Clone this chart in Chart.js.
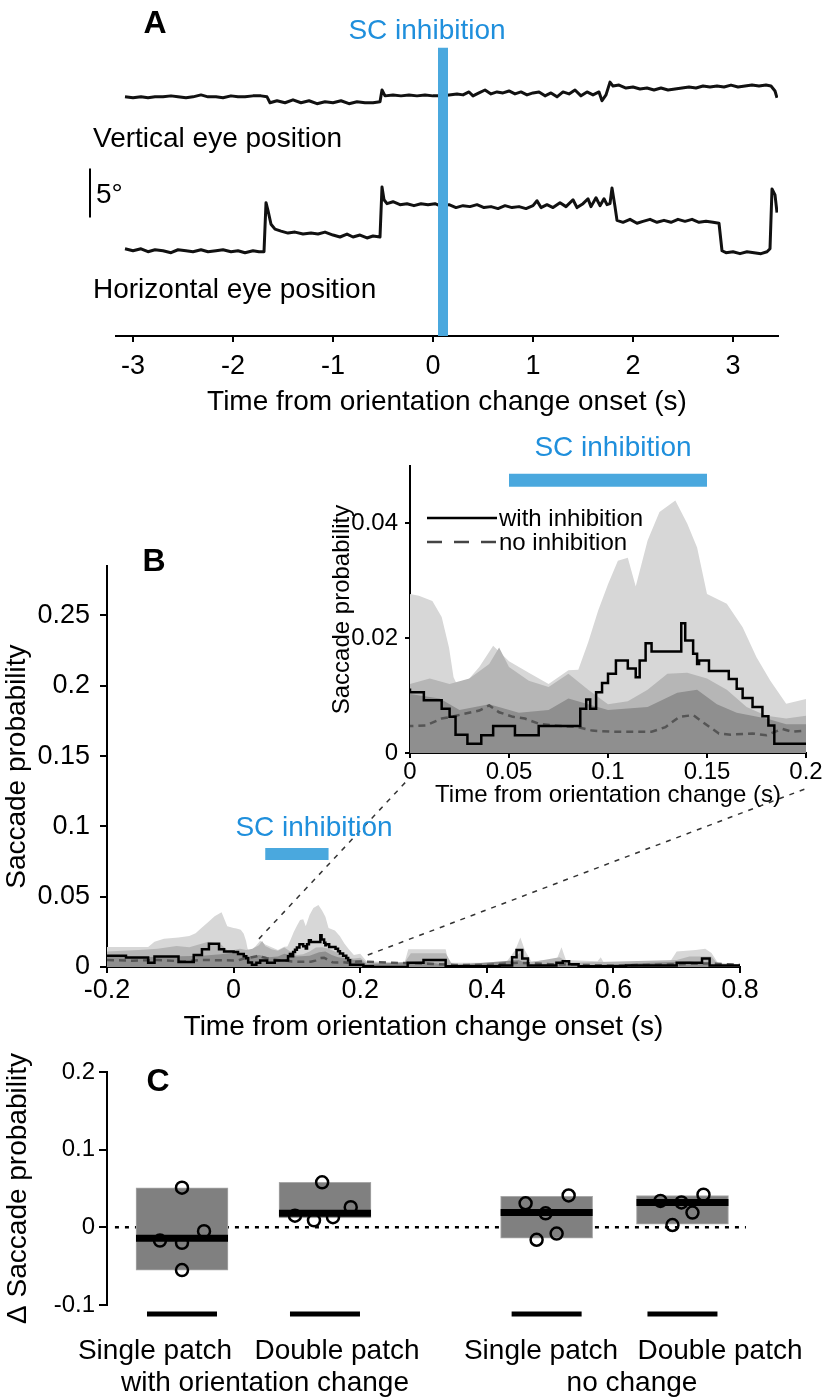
<!DOCTYPE html>
<html>
<head>
<meta charset="utf-8">
<title>SC inhibition and saccade probability</title>
<script src="https://cdn.jsdelivr.net/npm/chart.js"></script>
<style>
  body { margin: 0; background: #fff; }
  #fig { position: relative; width: 826px; height: 1400px; overflow: hidden; background: #fff; }
  #fig canvas { position: absolute; }
  .txt { position: absolute; font-family: 'Liberation Sans', Arial, sans-serif; line-height: 1; white-space: nowrap; color: #000; font-size: 28px; }
  .c { transform: translate(-50%, -50%); }
  .l { transform: translateY(-50%); }
  .panel { font-weight: bold; font-size: 32px; }
  .blue { color: #1f8fdc; }
  .small { font-size: 24px; }
</style>
</head>
<body>
<div id="fig">
  <canvas id="chartA" width="826" height="419" style="left:0;top:0"></canvas>
  <canvas id="chartB" width="826" height="504" style="left:0;top:540px"></canvas>
  <canvas id="chartInset" width="526" height="370" style="left:300px;top:440px"></canvas>
  <canvas id="chartC" width="826" height="350" style="left:0;top:1050px"></canvas>

  <div class="txt c panel" style="left:155px;top:22px">A</div>
  <div class="txt c blue" style="left:427px;top:30px">SC inhibition</div>
  <div class="txt l" style="left:93px;top:138px">Vertical eye position</div>
  <div class="txt l" style="left:96px;top:194px">5°</div>
  <div class="txt l" style="left:93px;top:289px">Horizontal eye position</div>

  <div class="txt c panel" style="left:154px;top:560px">B</div>
  <div class="txt c blue" style="left:314px;top:827px">SC inhibition</div>
  <div class="txt c blue" style="left:613px;top:447px">SC inhibition</div>
  <svg style="position:absolute;left:427px;top:508px" width="72" height="44">
    <line x1="0" y1="10" x2="70" y2="10" stroke="#000" stroke-width="2.5"/>
    <line x1="0" y1="34" x2="70" y2="34" stroke="#444" stroke-width="2.5" stroke-dasharray="15,12"/>
  </svg>
  <div class="txt l small" style="left:499px;top:518px">with inhibition</div>
  <div class="txt l small" style="left:499px;top:542px">no inhibition</div>

  <div class="txt c panel" style="left:158px;top:1080px">C</div>
  <div id="cLabels"></div>
</div>
<script>
// ---------- Panel A: eye position traces (deg, each trace on its own offset) ----------
const horizEye = [
  [-3.08, 8.9], [-3.0, 8.7], [-2.92, 8.9], [-2.85, 8.6], [-2.78, 8.8], [-2.7, 8.7], [-2.62, 8.5],
  [-2.55, 8.8], [-2.47, 8.7], [-2.4, 8.6], [-2.32, 8.8], [-2.25, 8.6], [-2.17, 8.7], [-2.1, 8.8],
  [-2.02, 8.6], [-1.95, 8.7], [-1.88, 8.5], [-1.8, 8.7], [-1.74, 8.6], [-1.69, 8.6], [-1.67, 13.6],
  [-1.65, 12.8], [-1.62, 11.4], [-1.58, 10.9], [-1.52, 10.7], [-1.45, 10.5], [-1.38, 10.6], [-1.3, 10.4],
  [-1.22, 10.5], [-1.15, 10.4], [-1.08, 10.6], [-1.0, 10.3], [-0.93, 10.1], [-0.86, 10.4], [-0.8, 10.1],
  [-0.73, 10.3], [-0.66, 10.0], [-0.6, 10.2], [-0.53, 10.1], [-0.51, 15.2], [-0.49, 13.9], [-0.46, 13.5],
  [-0.4, 13.7], [-0.33, 13.4], [-0.26, 13.5], [-0.19, 13.3], [-0.12, 13.5], [-0.05, 13.4], [0.02, 13.5],
  [0.09, 13.2], [0.16, 13.4], [0.23, 13.1], [0.3, 13.3], [0.37, 13.2], [0.44, 13.4], [0.51, 13.1],
  [0.58, 13.2], [0.65, 13.0], [0.72, 13.3], [0.79, 13.1], [0.86, 13.2], [0.93, 13.0], [1.0, 13.3],
  [1.04, 13.8], [1.08, 13.1], [1.14, 13.4], [1.2, 13.1], [1.27, 13.6], [1.33, 13.2], [1.4, 13.9],
  [1.44, 13.1], [1.5, 13.5], [1.55, 14.0], [1.58, 13.2], [1.63, 14.1], [1.67, 13.3], [1.71, 14.0],
  [1.74, 13.4], [1.77, 13.5], [1.79, 15.1], [1.82, 13.2], [1.84, 11.8], [1.9, 11.6], [1.97, 11.9],
  [2.04, 11.5], [2.1, 11.7], [2.17, 11.9], [2.24, 11.6], [2.31, 11.8], [2.38, 11.6], [2.45, 11.9],
  [2.52, 11.7], [2.59, 11.9], [2.66, 11.6], [2.73, 11.7], [2.8, 11.6], [2.86, 11.5], [2.89, 8.7],
  [2.93, 8.5], [3.0, 8.6], [3.07, 8.4], [3.14, 8.6], [3.21, 8.5], [3.28, 8.4], [3.34, 8.6],
  [3.37, 8.9], [3.39, 15.0], [3.42, 14.4], [3.44, 12.6]
];
const vertEye = [
  [-3.08, 24.4], [-3.0, 24.3], [-2.92, 24.4], [-2.85, 24.3], [-2.78, 24.4], [-2.7, 24.4], [-2.62, 24.5],
  [-2.55, 24.4], [-2.47, 24.3], [-2.4, 24.4], [-2.32, 24.6], [-2.25, 24.4], [-2.17, 24.4], [-2.1, 24.3],
  [-2.02, 24.5], [-1.95, 24.4], [-1.88, 24.4], [-1.8, 24.5], [-1.72, 24.5], [-1.66, 24.4], [-1.63, 23.8],
  [-1.56, 24.0], [-1.48, 23.8], [-1.4, 24.1], [-1.32, 23.8], [-1.24, 24.0], [-1.16, 23.7], [-1.08, 23.9],
  [-1.0, 23.8], [-0.92, 24.0], [-0.84, 23.7], [-0.76, 23.9], [-0.68, 23.8], [-0.6, 23.8], [-0.53, 23.9],
  [-0.51, 25.1], [-0.48, 24.5], [-0.4, 24.6], [-0.32, 24.5], [-0.24, 24.6], [-0.16, 24.5], [-0.08, 24.6],
  [0.0, 24.5], [0.08, 24.5], [0.16, 24.6], [0.24, 24.7], [0.3, 24.6], [0.36, 24.9], [0.4, 24.5],
  [0.46, 24.8], [0.52, 25.1], [0.58, 24.7], [0.64, 24.9], [0.7, 24.8], [0.76, 25.0], [0.82, 24.7],
  [0.88, 24.9], [0.94, 24.6], [1.0, 24.8], [1.06, 24.9], [1.12, 24.5], [1.18, 24.8], [1.24, 24.4],
  [1.3, 24.9], [1.36, 24.7], [1.42, 25.1], [1.48, 24.5], [1.54, 24.9], [1.6, 24.6], [1.66, 24.9],
  [1.69, 24.0], [1.73, 24.6], [1.77, 25.9], [1.8, 25.5], [1.86, 25.6], [1.93, 25.3], [2.0, 25.4],
  [2.07, 25.2], [2.14, 25.3], [2.21, 25.1], [2.28, 25.3], [2.35, 25.1], [2.42, 25.2], [2.49, 25.3],
  [2.56, 25.4], [2.63, 25.3], [2.7, 25.5], [2.77, 25.4], [2.84, 25.5], [2.91, 25.4], [2.98, 25.6],
  [3.05, 25.4], [3.12, 25.5], [3.19, 25.6], [3.26, 25.5], [3.33, 25.6], [3.38, 25.5], [3.42, 25.0],
  [3.44, 24.3]
];
const scWindow = [0.05, 0.15];      // s, SC inhibition period
const scaleBarDeg = [12.1, 17.1];   // 5 deg scale bar

// ---------- Panel B: saccade probability (time s, probability) ----------
const withInhibition = [
  [-0.2, 0.008], [-0.17, 0.0067], [-0.135, 0.003], [-0.125, 0.0074], [-0.087, 0.0035], [-0.063, 0.0085],
  [-0.05, 0.0127], [-0.039, 0.0166], [-0.023, 0.0127], [-0.015, 0.011], [0, 0.0106], [0.007, 0.0092],
  [0.016, 0.0077], [0.02, 0.0063], [0.023, 0.0032], [0.029, 0.0016], [0.036, 0.0031], [0.042, 0.0047],
  [0.053, 0.0031], [0.065, 0.0047], [0.086, 0.0077], [0.089, 0.0093], [0.091, 0.0077], [0.094, 0.0106],
  [0.097, 0.0122], [0.1, 0.0138], [0.104, 0.0161], [0.11, 0.0147], [0.114, 0.0132], [0.116, 0.0161],
  [0.119, 0.0191], [0.122, 0.0177], [0.137, 0.0226], [0.139, 0.0196], [0.143, 0.0173], [0.145, 0.0155],
  [0.146, 0.0161], [0.151, 0.0143], [0.161, 0.0129], [0.165, 0.0112], [0.168, 0.0096], [0.173, 0.008],
  [0.178, 0.0064], [0.181, 0.0048], [0.184, 0.0016], [0.205, 0.0005], [0.22, 0], [0.275, 0.003],
  [0.3, 0.005], [0.335, 0.0005], [0.42, 0.001], [0.44, 0.007], [0.447, 0.012], [0.456, 0.006],
  [0.465, 0.001], [0.51, 0.003], [0.52, 0.004], [0.53, 0.002], [0.545, 0.0005], [0.62, 0.001],
  [0.7, 0.003], [0.74, 0.006], [0.752, 0.001], [0.8, 0.001]
];
const noInhibition = [
  [-0.2, 0.005], [-0.16, 0.0045], [-0.12, 0.005], [-0.08, 0.004], [-0.05, 0.005], [-0.02, 0.0048],
  [0, 0.0047], [0.008, 0.0048], [0.016, 0.006], [0.021, 0.0063], [0.027, 0.0068], [0.035, 0.0074],
  [0.04, 0.0083], [0.045, 0.0071], [0.052, 0.0063], [0.058, 0.006], [0.065, 0.0051], [0.072, 0.0048],
  [0.085, 0.0045], [0.092, 0.0039], [0.102, 0.0037], [0.112, 0.0037], [0.122, 0.0037], [0.129, 0.0045],
  [0.136, 0.0063], [0.143, 0.0066], [0.149, 0.0051], [0.156, 0.0034], [0.162, 0.0032], [0.173, 0.0034],
  [0.18, 0.0031], [0.188, 0.0042], [0.193, 0.0037], [0.2, 0.0039], [0.25, 0.003], [0.3, 0.0025],
  [0.35, 0.0015], [0.4, 0.0015], [0.45, 0.003], [0.5, 0.002], [0.55, 0.0015], [0.6, 0.001],
  [0.65, 0.0015], [0.7, 0.002], [0.75, 0.0025], [0.8, 0.0015]
];
// confidence envelopes (upper bounds, filled down to 0)
const envLight = [
  [-0.2, 0.0143], [-0.135, 0.0143], [-0.125, 0.018], [-0.11, 0.02], [-0.087, 0.021], [-0.07, 0.022],
  [-0.06, 0.024], [-0.05, 0.028], [-0.04, 0.032], [-0.03, 0.036], [-0.019, 0.039], [-0.01, 0.029],
  [0, 0.0277], [0.0045, 0.0274], [0.0113, 0.0265], [0.016, 0.0237], [0.0197, 0.0184], [0.022, 0.0132],
  [0.025, 0.011], [0.035, 0.015], [0.042, 0.0187], [0.05, 0.016], [0.06, 0.014], [0.07, 0.012],
  [0.08, 0.0144], [0.085, 0.0145], [0.09, 0.0193], [0.095, 0.0248], [0.1, 0.0294], [0.105, 0.0335],
  [0.11, 0.034], [0.114, 0.029], [0.12, 0.037], [0.126, 0.042], [0.134, 0.044], [0.14, 0.04],
  [0.145, 0.0358], [0.15, 0.0277], [0.16, 0.026], [0.168, 0.0219], [0.175, 0.0167], [0.182, 0.0126],
  [0.19, 0.0086], [0.2, 0.0094], [0.21, 0.004], [0.27, 0.003], [0.276, 0.0127], [0.335, 0.0127],
  [0.34, 0.003], [0.43, 0.003], [0.445, 0.012], [0.453, 0.021], [0.46, 0.012], [0.47, 0.004],
  [0.51, 0.005], [0.518, 0.014], [0.525, 0.005], [0.575, 0.004], [0.58, 0.007], [0.585, 0.003],
  [0.69, 0.004], [0.7, 0.011], [0.73, 0.012], [0.745, 0.013], [0.755, 0.01], [0.765, 0.003], [0.8, 0.002]
];
const envMid = [
  [-0.2, 0.011], [-0.15, 0.012], [-0.12, 0.013], [-0.09, 0.015], [-0.07, 0.014], [-0.04, 0.018],
  [-0.02, 0.016], [-0.01, 0.012], [0, 0.012], [0.01, 0.013], [0.02, 0.012], [0.03, 0.013],
  [0.04, 0.0155], [0.045, 0.0184], [0.05, 0.015], [0.06, 0.0126], [0.07, 0.0115], [0.08, 0.0138],
  [0.09, 0.011], [0.1, 0.0085], [0.11, 0.009], [0.12, 0.011], [0.13, 0.0138], [0.14, 0.014],
  [0.15, 0.013], [0.16, 0.011], [0.17, 0.008], [0.18, 0.0065], [0.19, 0.006], [0.2, 0.0065],
  [0.21, 0.003], [0.27, 0.003], [0.28, 0.0097], [0.335, 0.0097], [0.345, 0.002], [0.44, 0.003],
  [0.453, 0.011], [0.465, 0.003], [0.515, 0.007], [0.53, 0.003], [0.7, 0.005], [0.72, 0.0074],
  [0.755, 0.0074], [0.765, 0.002], [0.8, 0.002]
];
const envDark = [
  [-0.2, 0.0074], [-0.15, 0.007], [-0.1, 0.0075], [-0.05, 0.008], [-0.02, 0.009], [0, 0.0103],
  [0.015, 0.0095], [0.025, 0.0075], [0.04, 0.0085], [0.055, 0.007], [0.07, 0.0075], [0.08, 0.0095],
  [0.09, 0.0085], [0.1, 0.0075], [0.12, 0.008], [0.135, 0.0105], [0.145, 0.011], [0.155, 0.0085],
  [0.165, 0.007], [0.18, 0.006], [0.19, 0.005], [0.2, 0.005], [0.21, 0.002], [0.3, 0.004],
  [0.34, 0.001], [0.45, 0.005], [0.47, 0.001], [0.52, 0.003], [0.55, 0.001], [0.72, 0.004],
  [0.76, 0.001], [0.8, 0.001]
];
const zoomGuideLeft = [[0.04, 0.02], [0.277, 0.134]];
const zoomGuideRight = [[0.212, 0.0085], [0.905, 0.127]];

// ---------- Panel C: change in saccade probability ----------
const cCategories = ['Single patch', 'Double patch', 'Single patch', 'Double patch'];
const cGroups = ['with orientation change', 'no change'];
const cPos = [1, 2, 3.55, 4.5];
const cBoxLow = [-0.055, 0.012, -0.014, 0.004];
const cBoxHigh = [0.051, 0.058, 0.040, 0.041];
const cMedian = [-0.014, 0.018, 0.019, 0.032];
const cJitter = [
  [0, -0.154, 0, 0.154, 0],
  [-0.02, -0.21, -0.077, 0.056, 0.18],
  [-0.147, -0.007, 0.154, 0.07, -0.07],
  [-0.154, -0.007, 0.07, 0.147, -0.07]
];
const cValues = [
  [0.051, -0.017, -0.02, -0.005, -0.055],
  [0.058, 0.015, 0.009, 0.013, 0.026],
  [0.031, 0.018, 0.041, -0.008, -0.016],
  [0.034, 0.032, 0.019, 0.042, 0.003]
];

// ---------- shared style ----------
const scBlue = '#4aa8de';
Chart.defaults.font.family = "'Liberation Sans', Arial, sans-serif";
Chart.defaults.color = '#000';

const pts = arr => arr.map(p => ({ x: p[0], y: p[1] }));
const fmt = v => String(+v.toFixed(3));

function axis(o) {
  return {
    type: 'linear', min: o.min, max: o.max, offset: false,
    grid: { drawOnChartArea: false, drawTicks: true, tickLength: o.tick, color: '#000', lineWidth: 2, offset: false },
    border: { display: true, color: '#000', width: 2 },
    ticks: { stepSize: o.step, font: { size: o.size }, padding: o.pad, color: '#000',
             includeBounds: false, autoSkip: false, maxRotation: 0, callback: fmt },
    title: { display: true, text: o.title, font: { size: o.titleSize }, color: '#000', padding: o.titlePad },
    afterFit: o.fit
  };
}

function opts(padding, scales) {
  return {
    responsive: false, animation: false, devicePixelRatio: 1,
    layout: { padding: padding, autoPadding: false },
    plugins: { legend: { display: false }, tooltip: { enabled: false } },
    elements: { point: { radius: 0, hoverRadius: 0 }, line: { tension: 0 } },
    scales: scales
  };
}

// ---------- Panel A ----------
const scMid = (scWindow[0] + scWindow[1]) / 2;
new Chart(document.getElementById('chartA'), {
  type: 'line',
  data: {
    datasets: [
      { data: pts(horizEye), borderColor: '#111', borderWidth: 3, borderJoinStyle: 'round', order: 1 },
      { data: pts(vertEye), borderColor: '#111', borderWidth: 3, borderJoinStyle: 'round', order: 1 },
      { data: [{ x: scMid, y: 0 }, { x: scMid, y: 29.4 }], borderColor: scBlue, borderWidth: 10,
        borderCapStyle: 'butt', order: 0 },
      { data: [{ x: -3.43, y: scaleBarDeg[0] }, { x: -3.43, y: scaleBarDeg[1] }], borderColor: '#000',
        borderWidth: 2, clip: false, order: 0 }
    ]
  },
  options: opts({ left: 116, right: 48, top: 40, bottom: 0 }, {
    x: axis({ min: -3.17, max: 3.45, step: 1, size: 27, tick: 6, pad: 8,
              title: 'Time from orientation change onset (s)', titleSize: 28, titlePad: 0,
              fit: s => { s.height = 83; } }),
    y: { type: 'linear', display: false, min: 0, max: 30.2 }
  })
});

// ---------- Panel B (main + inset) ----------
function traceSets(barY, barWidth) {
  return [
    { data: pts(withInhibition), borderColor: '#000', borderWidth: 2.5, stepped: true, order: 0 },
    { data: pts(noInhibition), borderColor: '#555', borderWidth: 2.5, borderDash: [7, 5], order: 1 },
    { data: [{ x: scWindow[0], y: barY }, { x: scWindow[1], y: barY }], borderColor: scBlue,
      borderWidth: barWidth, borderCapStyle: 'butt', order: 0 },
    { data: pts(envDark), borderWidth: 0, fill: 'origin', backgroundColor: '#8f8f8f', order: 3 },
    { data: pts(envMid), borderWidth: 0, fill: 'origin', backgroundColor: '#b6b6b6', order: 4 },
    { data: pts(envLight), borderWidth: 0, fill: 'origin', backgroundColor: '#d7d7d7', order: 5 }
  ];
}

const mainSets = traceSets(0.0803, 12);
[zoomGuideLeft, zoomGuideRight].forEach(g => mainSets.push(
  { data: pts(g), borderColor: '#333', borderWidth: 1.5, borderDash: [5, 6], clip: false, order: 2 }
));

new Chart(document.getElementById('chartB'), {
  type: 'line',
  data: { datasets: mainSets },
  options: opts({ left: 0, right: 86, top: 18, bottom: 0 }, {
    x: axis({ min: -0.2, max: 0.8, step: 0.2, size: 27, tick: 6, pad: 1,
              title: 'Time from orientation change onset (s)', titleSize: 28, titlePad: 0,
              fit: s => { s.height = 77; } }),
    y: axis({ min: 0, max: 0.285, step: 0.05, size: 27, tick: 7, pad: 10,
              title: 'Saccade probability', titleSize: 28, titlePad: 0,
              fit: s => { s.width = 107; } })
  })
});

new Chart(document.getElementById('chartInset'), {
  type: 'line',
  data: { datasets: traceSets(0.0475, 13) },
  options: opts({ left: 0, right: 20, top: 26, bottom: 0 }, {
    x: axis({ min: 0, max: 0.2, step: 0.05, size: 24, tick: 5, pad: 0,
              title: 'Time from orientation change (s)', titleSize: 24, titlePad: 0,
              fit: s => { s.height = 57; } }),
    y: axis({ min: 0, max: 0.05, step: 0.02, size: 24, tick: 5, pad: 7,
              title: 'Saccade probability', titleSize: 24, titlePad: 27.6,
              fit: s => { s.width = 110; } })
  })
});

// ---------- Panel C ----------
const cPoints = [];
cValues.forEach((vals, i) => vals.forEach((v, j) => cPoints.push({ x: cPos[i] + cJitter[i][j], y: v })));

new Chart(document.getElementById('chartC'), {
  type: 'line',
  data: {
    datasets: [
      { type: 'bar', data: cPos.map((x, i) => ({ x: x, y: [cBoxLow[i], cBoxHigh[i]] })),
        backgroundColor: '#808080', borderColor: '#a8a8a8', borderWidth: 1, borderSkipped: false,
        barThickness: 92, order: 2 },
      { data: [{ x: 0.531, y: 0 }, { x: 4.944, y: 0 }], borderColor: '#000', borderWidth: 2.5,
        borderDash: [4, 6], order: 3 },
      { data: cPos.map((x, i) => ({ x: x, y: cMedian[i] })), showLine: false, pointStyle: 'line',
        pointRadius: 46, pointBorderWidth: 7, pointBorderColor: '#000', order: 1 },
      { data: cPoints, showLine: false, pointStyle: 'circle', pointRadius: 6, pointBorderWidth: 2.5,
        pointBorderColor: '#000', pointBackgroundColor: 'rgba(0,0,0,0)', order: 0 },
      { data: cPos.map(x => ({ x: x, y: -0.1115 })), showLine: false, pointStyle: 'line',
        pointRadius: 35, pointBorderWidth: 5, pointBorderColor: '#000', clip: false, order: 0 }
    ]
  },
  options: opts({ left: 0, right: 26, top: 22, bottom: 95 }, {
    x: { type: 'linear', display: false, min: 0.4755, max: 5.322, offset: false },
    y: axis({ min: -0.1, max: 0.2, step: 0.1, size: 24, tick: 8, pad: 4,
              title: 'Δ Saccade probability', titleSize: 28, titlePad: 1.2,
              fit: s => { s.width = 107; } })
  })
});

// category labels under panel C
const catLabelX = [155, 337, 541, 720];
const groupLabelX = [265, 632];
const holder = document.getElementById('cLabels');
cCategories.forEach((t, i) => {
  const d = document.createElement('div');
  d.className = 'txt c';
  d.style.left = catLabelX[i] + 'px';
  d.style.top = '1350px';
  d.textContent = t;
  holder.appendChild(d);
});
cGroups.forEach((t, i) => {
  const d = document.createElement('div');
  d.className = 'txt c';
  d.style.left = groupLabelX[i] + 'px';
  d.style.top = '1382px';
  d.textContent = t;
  holder.appendChild(d);
});
</script>
</body>
</html>
